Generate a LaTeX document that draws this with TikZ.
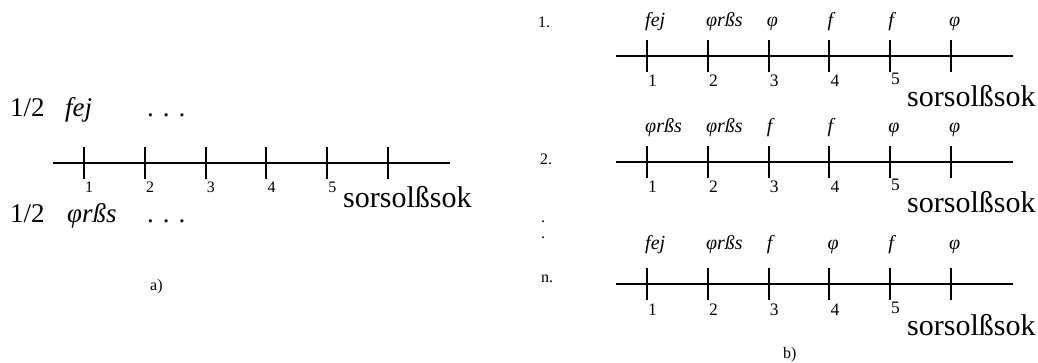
\documentclass[tikz,border=0pt]{standalone}
\usepackage{fontspec}
\setmainfont{Liberation Serif}
\usetikzlibrary{positioning}

\begin{document}
\begin{tikzpicture}[x=1pt, y=-1pt,
    axis/.style={line width=2pt},
    txt/.style={inner sep=0pt, anchor=base west},
    big/.style={txt, font=\fontsize{27}{27}\selectfont},
    bigit/.style={txt, font=\itshape\fontsize{27}{27}\selectfont},
    word/.style={txt, font=\fontsize{30}{30}\selectfont},
    num/.style={txt, font=\fontsize{16}{16}\selectfont},
    rnum/.style={txt, font=\fontsize{17.5}{17.5}\selectfont},
    lab/.style={txt, font=\itshape\fontsize{20}{20}\selectfont}
  ]
  \useasboundingbox (0,0) rectangle (1038,363);

  % a) one line, two choices
  \node[big] (half1) at (10,117) {1/2};
  \node[bigit] (fej) at (65,117) {fej};
  \node[big] (dots1) at (147,117) {. . .};
  \node[big] (half2) at (10,223) {1/2};
  \node[bigit] (phi) at (67,223) {φrßs};
  \node[big] (dots2) at (147,223) {. . .};

  \coordinate (a0) at (53,163);
  \coordinate (a1) at (450,163);
  \draw[axis] (a0) -- (a1);
  \foreach \i in {1,...,6} {
    \coordinate (at\i) at ({84+60.8*(\i-1)},147);
    \coordinate (ab\i) at ({84+60.8*(\i-1)},179);
    \draw[axis] (at\i) -- (ab\i);
  }
  \foreach \i in {1,...,5}
    \node[num] (an\i) at ({85+60.8*(\i-1)},193) {\i};
  \node[word] (aword) at (343,208) {sorsolßsok};
  \node[num] (cap-a) at (150,290) {a)};

  % b) n lines
  \foreach \r/\yy in {1/56, 2/162, n/284} {
    \coordinate (b\r0) at (616,\yy);
    \coordinate (b\r1) at (1013,\yy);
    \draw[axis] (b\r0) -- (b\r1);
    \foreach \i in {1,...,6} {
      \coordinate (b\r t\i) at ({647+60.8*(\i-1)},\yy-16);
      \coordinate (b\r b\i) at ({647+60.8*(\i-1)},\yy+16);
      \draw[axis] (b\r t\i) -- (b\r b\i);
    }
    \foreach \i in {1,...,4}
      \node[rnum] (b\r n\i) at ({648+60.8*(\i-1)},\yy+31) {\i};
    \node[rnum] (b\r n5) at (891,\yy+29) {5};
    \node[word] (b\r word) at (907,\yy+51) {sorsolßsok};
  }
  \foreach \l [count=\i] in {fej,φrßs,φ,f,f,φ}
    \node[lab] (b1l\i) at ({645+60.8*(\i-1)},27) {\l};
  \foreach \l [count=\i] in {φrßs,φrßs,f,f,φ,φ}
    \node[lab] (b2l\i) at ({645+60.8*(\i-1)},133) {\l};
  \foreach \l [count=\i] in {fej,φrßs,f,φ,f,φ}
    \node[lab] (bnl\i) at ({645+60.8*(\i-1)},250) {\l};

  \node[num] (row1) at (538,28) {1.};
  \node[num] (row2) at (540,165) {2.};
  \node[num] (vdot1) at (541,223) {.};
  \node[num] (vdot2) at (541,239) {.};
  \node[num] (rown) at (541,283) {n.};
  \node[num] (cap-b) at (783,358) {b)};
\end{tikzpicture}
\end{document}
